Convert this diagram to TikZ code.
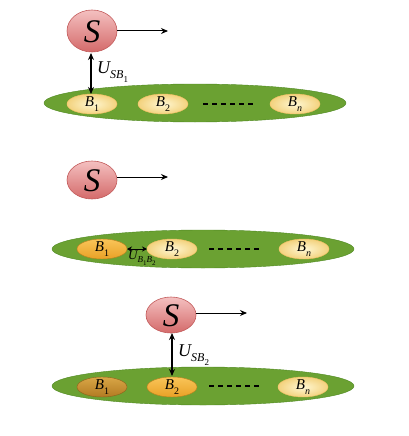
\documentclass[tikz,border=0pt]{standalone}
\usepackage{fontspec}
\setmainfont{Liberation Serif}
\usetikzlibrary{arrows.meta}
\definecolor{sdraw}{HTML}{C25A5A}
\definecolor{stop}{HTML}{F4C0C0}
\definecolor{sbot}{HTML}{D46A6A}
\definecolor{grn}{HTML}{6BA132}
\definecolor{grndraw}{HTML}{4F8A22}
\definecolor{lin}{HTML}{FFF7D2}
\definecolor{lout}{HTML}{F3D27E}
\definecolor{otop}{HTML}{F9C458}
\definecolor{obot}{HTML}{E9A126}
\definecolor{dtop}{HTML}{D9A646}
\definecolor{dbot}{HTML}{B27A22}
\newcommand{\lowsub}[2]{\raisebox{-0.28em}{\fontsize{#1}{#1}\selectfont #2}}
\begin{document}
\begin{tikzpicture}[x=1pt,y=-1pt,
  sfig/.style={draw=sdraw,line width=0.6pt,top color=stop,bottom color=sbot},
  field/.style={draw=grndraw,line width=0.4pt,fill=grn},
  blight/.style={draw=lout!80!orange,line width=0.4pt,inner color=lin,outer color=lout},
  borange/.style={draw=obot!80!black,line width=0.4pt,top color=otop,bottom color=obot},
  bdark/.style={draw=dbot!80!black,line width=0.4pt,top color=dtop,bottom color=dbot},
  arr/.style={-{Stealth[length=7pt,width=6pt]},line width=1pt},
  darr/.style={{Stealth[length=7pt,width=6pt]}-{Stealth[length=7pt,width=6pt]},line width=1.1pt},
  dsh/.style={dashed,dash pattern=on 5pt off 4pt,line width=1.2pt},
  lbl/.style={inner sep=0pt}
]
\useasboundingbox (0,0) rectangle (409,436);
\newcommand{\Slabel}{\fontsize{33}{33}\selectfont\itshape S}
\newcommand{\Blab}[1]{\fontsize{15}{15}\selectfont\itshape B\lowsub{10}{\upshape #1}}
\newcommand{\Blabn}{\fontsize{15}{15}\selectfont\itshape B\lowsub{10}{n}}

% ---------- panel 1 ----------
\path[field] (195,103) ellipse [x radius=151, y radius=19];
\path[sfig] (92,31) ellipse [x radius=25, y radius=21];
\node[lbl] (S1) at (92,32) {\Slabel};
\coordinate (S1r) at (117,31);
\coordinate (S1b) at (91,53);
\coordinate (S1e) at (168,31);
\path[blight] (92,104) ellipse [x radius=25, y radius=10];
\node[lbl] (B11) at (92,104) {\Blab{1}};
\path[blight] (163,104) ellipse [x radius=25, y radius=10];
\node[lbl] (B12) at (163,104) {\Blab{2}};
\path[blight] (295,104) ellipse [x radius=25, y radius=10];
\node[lbl] (B1n) at (295,104) {\Blabn};
\coordinate (D1a) at (203,104);
\coordinate (D1b) at (254,104);
\coordinate (B11t) at (91,94);
\draw[arr] (S1r) -- (S1e);
\draw[darr] (S1b) -- (B11t);
\draw[dsh] (D1a) -- (D1b);
\node[lbl,anchor=west] (U1) at (97,72) {\fontsize{18}{18}\selectfont\itshape U\lowsub{12}{SB\lowsub{9}{\upshape 1}}};

% ---------- panel 2 ----------
\path[field] (203,249) ellipse [x radius=151, y radius=19];
\path[sfig] (92,180) ellipse [x radius=25, y radius=19];
\node[lbl] (S2) at (92,181) {\Slabel};
\coordinate (S2r) at (117,177);
\coordinate (S2e) at (168,177);
\path[borange] (102,249) ellipse [x radius=25, y radius=10];
\node[lbl] (B21) at (102,249) {\Blab{1}};
\path[blight] (172,249) ellipse [x radius=25, y radius=10];
\node[lbl] (B22) at (172,249) {\Blab{2}};
\path[blight] (304,249) ellipse [x radius=25, y radius=10];
\node[lbl] (B2n) at (304,249) {\Blabn};
\coordinate (D2a) at (209,249);
\coordinate (D2b) at (260,249);
\coordinate (B21r) at (127,249);
\coordinate (B22l) at (147,249);
\draw[arr] (S2r) -- (S2e);
\draw[{Stealth[length=5pt,width=5pt]}-{Stealth[length=5pt,width=5pt]},line width=1pt] (B21r) -- (B22l);
\draw[dsh] (D2a) -- (D2b);
\node[lbl,anchor=west] (U2) at (128,258) {\fontsize{13}{13}\selectfont\itshape U\lowsub{9}{B\lowsub{7}{\upshape 1}B\lowsub{7}{\upshape 2}}};

% ---------- panel 3 ----------
\path[field] (203,386) ellipse [x radius=151, y radius=19];
\path[sfig] (171,315) ellipse [x radius=25, y radius=18];
\node[lbl] (S3) at (171,316) {\Slabel};
\coordinate (S3r) at (196,313);
\coordinate (S3e) at (247,313);
\coordinate (S3b) at (172,333);
\path[bdark] (102,387) ellipse [x radius=25, y radius=10];
\node[lbl] (B31) at (102,387) {\Blab{1}};
\path[borange] (172,387) ellipse [x radius=25, y radius=10];
\node[lbl] (B32) at (172,387) {\Blab{2}};
\path[blight] (303,387) ellipse [x radius=25, y radius=10];
\node[lbl] (B3n) at (303,387) {\Blabn};
\coordinate (D3a) at (209,386);
\coordinate (D3b) at (260,386);
\coordinate (B32t) at (172,376);
\draw[arr] (S3r) -- (S3e);
\draw[darr] (S3b) -- (B32t);
\draw[dsh] (D3a) -- (D3b);
\node[lbl,anchor=west] (U3) at (178,355) {\fontsize{18}{18}\selectfont\itshape U\lowsub{12}{SB\lowsub{9}{\upshape 2}}};
\end{tikzpicture}
\end{document}
